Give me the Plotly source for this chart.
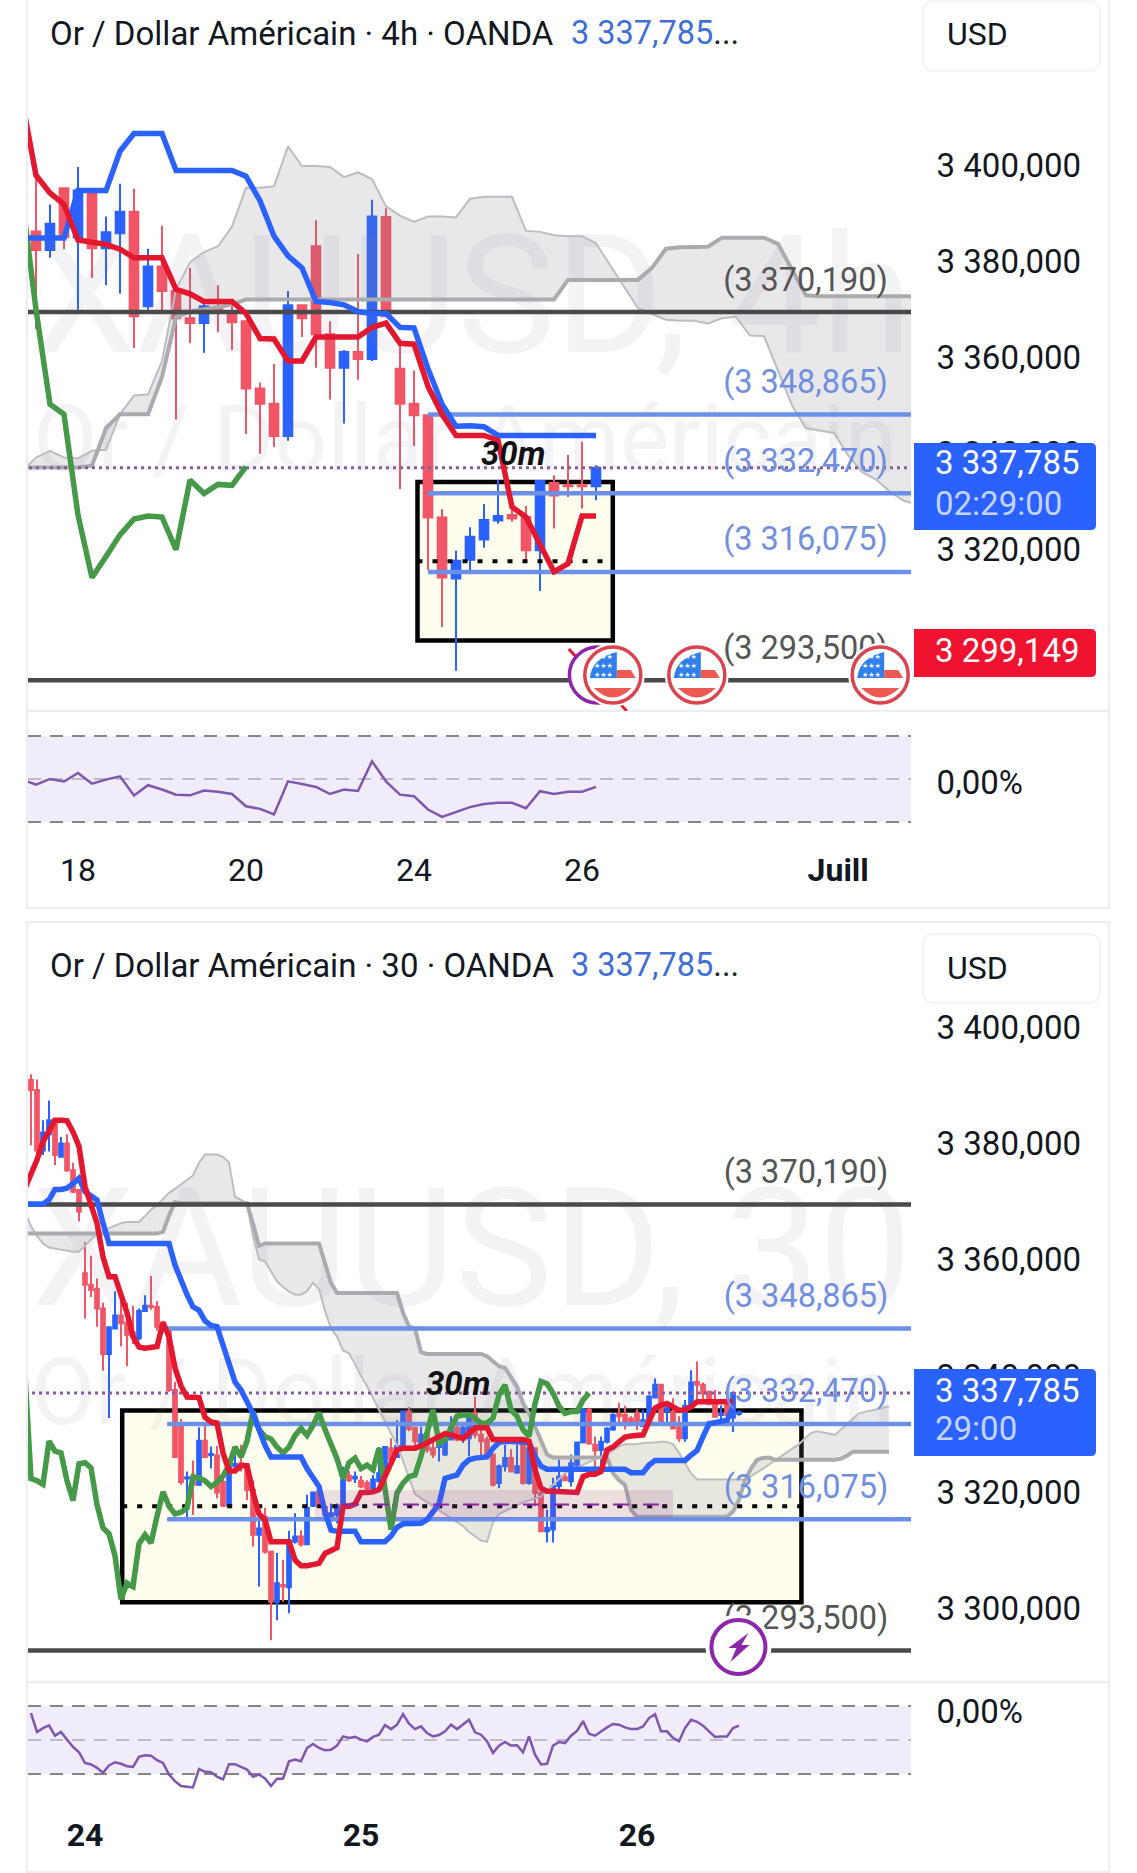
import plotly.graph_objects as go

# ---------- shared values ----------
LEVELS_DARK = [3370.19, 3293.5]
LEVELS_BLUE = [3348.865, 3332.47, 3316.075]
LEVEL_TEXT = {3370.19: "(3 370,190)", 3348.865: "(3 348,865)", 3332.47: "(3 332,470)", 3316.075: "(3 316,075)", 3293.5: "(3 293,500)"}
LAST_PRICE = 3337.785
BOX_TOP = 3334.8
BOX_BOTTOM = 3301.8
BOX_MID = 3318.3
PRICE_TICKS = [3400, 3380, 3360, 3340, 3320, 3300]

# ---------- panel 1 : 4h ----------
h4_open = [3387,3383.1,3396,3385.8,3395.5,3383.5,3386.6,3391.1,3371.4,3379.7,3374.6,3368.9,3367.9,3371.2,3369.9,3368.3,3354.3,3351.1,3344.4,3371.6,3383.9,3365.6,3358.6,3361.9,3360.4,3390,3358.4,3351.1,3348.7,3327.4,3314.7,3318.6,3322.8,3326.8,3327.9,3327.5,3320.6,3334.6,3334.1,3334.1,3333.9]
h4_high = [3397.9,3392.6,3396.1,3400.4,3395.5,3390.1,3396.9,3395.9,3383.4,3388.2,3374.6,3379.4,3372.8,3375.8,3372.4,3368.3,3355.5,3359.4,3374.6,3371.7,3389.3,3368.3,3362.3,3382.3,3393.6,3391.8,3363.3,3358,3348.7,3329.1,3320.5,3325.4,3330.2,3335.2,3329.6,3329.8,3335.2,3336.2,3340.4,3343.2,3338.3]
h4_low = [3366.6,3381.5,3383.3,3370.7,3377.3,3375.8,3374,3362.7,3370.7,3369.9,3347.8,3363.7,3361.7,3366,3362.3,3344.8,3340.7,3342.1,3343.4,3365,3358.6,3352,3347,3356.1,3360,3369.1,3333.3,3342.3,3316.4,3304.6,3295.5,3315.8,3321.1,3326.1,3326.5,3318.4,3312.1,3325.1,3331.7,3329.3,3331]
h4_close = [3383.1,3388.6,3385.8,3395.5,3383.5,3386.8,3391.1,3369.3,3379.7,3374.6,3368.9,3367.9,3371.4,3370.3,3368.1,3354.3,3351.1,3344.4,3371.6,3368.9,3365.6,3358.6,3361.9,3360.4,3390.1,3369.3,3351.1,3348.7,3327.4,3314.9,3318.4,3323.4,3326.9,3327.7,3327.2,3320.6,3335,3332,3333.9,3333.9,3337.785]
# lines start one bar before the first candle
h4_tenkan = [3414.4,3398.7,3395,3392.6,3385.2,3384.7,3384.3,3383.3,3381.5,3381.5,3381.5,3374.9,3374,3372.4,3372.4,3372.4,3369.9,3364.7,3364.6,3360,3360,3365,3365,3365,3365,3367,3367.9,3363.7,3363.5,3354.7,3348.9,3344.5,3344.5,3344.5,3343.5,3329.6,3327.5,3322,3316.1,3317.8,3327.7,3327.7]
h4_kijun = [3385.6,3385.6,3385.6,3385.6,3395.5,3395.5,3395.5,3403.7,3407.4,3407.4,3407.4,3399.7,3399.7,3399.7,3399.7,3399.7,3398.5,3393.4,3386,3381.9,3379.4,3372.4,3372.2,3371.7,3370.3,3369.9,3369.9,3367,3366.9,3358.4,3351,3346.4,3346.5,3346.3,3344.5,3344.5,3344.5,3344.5,3344.5,3344.5,3344.5,3344.5]
h4_chikou = [3394.1,3370.7,3351,3348.9,3327.9,3314.9,3319.3,3323.8,3327.1,3327.7,3327.5,3320.7,3335.2,3332.4,3334.3,3334.1,3338]
h4_span_a = [3337,3339.9,3341.3,3339.9,3339.7,3341.3,3341.5,3348.9,3352.8,3353,3360,3374.9,3380.6,3382.7,3383.9,3388,3396.1,3396.1,3396.4,3404.7,3400.6,3400.6,3400.4,3398.3,3399.3,3397.9,3392.2,3390.3,3389,3390.1,3390.1,3389.9,3393.8,3394.2,3394.2,3394.2,3387.1,3386.9,3386.2,3386,3386,3384.5,3380,3375.5,3371,3369.8,3368.6,3368.4,3368.4,3367.8,3368.9,3369.2,3365.3,3365.2,3357.8,3350.8,3346,3345.5,3345,3340.4,3336.9,3335.3,3332.8,3330.9,3330]
h4_span_b = [3337.8,3337.8,3337.8,3337.8,3337.8,3338.2,3346,3348.9,3348.9,3348.9,3356.7,3369.1,3370.3,3370.7,3371.2,3371.8,3372.8,3372.8,3372.8,3372.8,3372.8,3372.8,3372.8,3372.8,3372.8,3372.8,3372.8,3372.8,3372.8,3372.8,3372.8,3372.8,3372.8,3372.8,3372.8,3372.8,3372.8,3372.8,3372.8,3376.9,3376.9,3376.9,3376.9,3376.9,3376.9,3379.4,3383.4,3383.7,3383.8,3383.8,3385.7,3385.7,3385.7,3385.7,3384.4,3378.9,3373.7,3373.5,3373.5,3373.5,3373.5,3373.5,3373.5,3373.5,3373.5]
h4_rsi = [49.7,47.4,50,48.8,52.8,47.8,49.7,51.2,42.3,47.1,45.1,42.7,42.4,44.6,44.1,43,37.3,36.1,33.5,48.9,47.7,46.3,43,45.1,44.4,58.2,48.9,42.7,42,35.8,32.4,34.5,36.9,38.4,38.9,38.9,36.4,44.3,43,44,44.1,46.3]
h4_date_pos = [3, 15, 27, 39, 57.3]
h4_date_text = ["18", "20", "24", "26", "<b>Juill</b>"]

# ---------- panel 2 : 30 min ----------
m30_open = [3391.6,3389.9,3379.5,3382.3,3384.8,3378.4,3380.7,3376.1,3372.7,3358.4,
3356.4,3355.7,3352.3,3344.5,3348.9,3351.1,3349.9,3348.2,3347.2,3351.9,
3352.8,3352.6,3349.9,3348.9,3338.3,3332.6,3323.1,3323.3,3322,3329.6,
3327.1,3327.1,3322.5,3318.4,3325.2,3325.7,3325.2,3321.1,3313.4,3316.5,
3310.5,3301.9,3304.8,3304.4,3312.2,3313.1,3311.8,3318.4,3320.8,3318.2,
3315.9,3316.8,3318.8,3323.5,3323.1,3322.7,3322.3,3321.4,3322.6,3324,
3328.3,3326.8,3328.7,3334.6,3331.8,3329.2,3330.8,3328.3,3328.5,3327.2,
3329.8,3331.8,3329.8,3330,3334.3,3330.6,3329.8,3327.2,3322.3,3325.2,
3326.6,3324.1,3328.9,3322.3,3328.3,3320.6,3314,3314.3,3321.8,3323.3,
3322.6,3325.4,3329.3,3334.9,3328.9,3328,3329.4,3331.5,3334.2,3334,
3333.4,3334.3,3332.1,3333.1,3337,3339.2,3334.6,3334.6,3331.9,3330,
3335.6,3339.7,3339.2,3338,3336.3,3334,3336.6,3333.6,3334.2]
m30_high = [3392.6,3391.7,3384.7,3388.1,3384.8,3381.8,3382.3,3377.4,3372.7,3363.7,
3361.4,3357.5,3353.3,3349.1,3355.3,3355.3,3353.3,3352.8,3352.3,3354.6,
3357.9,3353.6,3350.2,3349.2,3339.7,3333.3,3324.3,3326.2,3331.9,3332.3,
3328.6,3328.7,3323.1,3325.7,3327.7,3328.9,3325.4,3322.8,3317.8,3318,
3310.5,3310.3,3309.1,3314.1,3317.1,3314.2,3320.3,3320.8,3320.8,3318.8,
3318.8,3318.8,3325.1,3324.4,3324.3,3323.5,3322.8,3323.7,3328.5,3328.7,
3330,3333.1,3334.8,3335.4,3332,3332,3331.8,3329.8,3329.8,3330.6,
3333.8,3333.3,3332.6,3334.3,3337.2,3331.5,3330.3,3327.2,3325.5,3328.9,
3328.1,3328.9,3328.9,3328.9,3328.3,3321.2,3317.7,3323.2,3326.3,3325.2,
3327.2,3329.4,3335.2,3335.2,3330.3,3330.3,3331.9,3334.3,3336.1,3335.6,
3333.8,3335,3334.9,3337.4,3340.3,3339.2,3336,3336.9,3333.8,3336.6,
3341.7,3343.2,3339.6,3338,3338.3,3335.7,3338.3,3338,3334.8]
m30_low = [3380.4,3378.4,3378.7,3379.3,3377,3378.3,3375.8,3372.2,3367.3,3350.6,
3354.3,3349.2,3341.6,3333.5,3348.9,3345.8,3342.4,3346.2,3346.8,3351.9,
3352.1,3348.5,3348.4,3338,3326.8,3322,3316.2,3316.8,3322,3326.7,
3324.8,3319.7,3318.2,3318.4,3324.8,3324.3,3319.4,3311.4,3304.5,3310.2,
3295.3,3298.7,3301.9,3299.9,3311.9,3311.4,3311.8,3318.2,3318,3315.9,
3315.9,3315.4,3318.5,3322.5,3322.3,3321.4,3321.1,3321.2,3322.4,3323.7,
3325.7,3326.6,3328.6,3331.2,3328.5,3328.3,3327.5,3326.6,3326,3326.9,
3329.8,3329.5,3329.2,3326.9,3330,3326.9,3326.9,3321.7,3321.4,3324.3,
3324.3,3324,3322,3322,3318.3,3314,3312.1,3312.1,3320.9,3322.6,
3321.7,3325.1,3329.1,3328.9,3324.8,3324.8,3329.1,3331.3,3332.3,3331.5,
3332.1,3331.4,3332,3332.6,3336.9,3332.7,3332.3,3331.7,3329.4,3329.4,
3335.4,3336.6,3336,3335.7,3333.6,3332.9,3332.6,3331.1,3333.9]
m30_close = [3389.9,3379.5,3382.6,3384.7,3378.7,3380.7,3376.1,3372.4,3369,3356.4,
3355.5,3352.3,3344.5,3349.1,3351.1,3349.8,3347.8,3347.5,3351.9,3352.8,
3352.6,3349.2,3348.5,3338.3,3326.8,3322.5,3323.3,3322,3329.6,3326.8,
3327.3,3320.7,3318.4,3325.2,3325.6,3325.1,3321.1,3313.4,3314.5,3310.5,
3301.9,3305.1,3304.5,3312.3,3313.1,3311.8,3318,3320.7,3318.2,3316.8,
3317.1,3318.5,3322.8,3322.8,3323.4,3321.7,3321.4,3322.9,3324,3328.5,
3326.3,3328.7,3334.6,3331.6,3329.5,3330.6,3328,3327.2,3329.8,3329.8,
3331.8,3329.8,3331.8,3334,3330.6,3329.5,3327.2,3322,3325.2,3326.6,
3324.3,3325.2,3322.3,3328.3,3320.6,3314,3314.6,3321.8,3323.4,3322.8,
3325.7,3329.3,3334.9,3329.1,3327.9,3329.4,3331.7,3334,3333.8,3332.9,
3332.3,3332.3,3333.1,3337.2,3339.2,3332.9,3335.2,3331.7,3330,3335.6,
3339.6,3339.2,3337.7,3336,3333.7,3334.2,3334,3337.785,3334.5]
m30_tenkan = [3373,3375.3,3377.9,3381,3382.7,3384.7,3384.7,3384.6,3382.7,3380.2,3373.3,
3369.8,3367,3361.2,3357.8,3357.8,3354.7,3351.6,3347.5,3345.7,3345.5,3345.7,3345.8,3349.9,3347.5,3342.1,3339,
3337.1,3337.1,3337,3333.6,3332.8,3332.6,3327.5,3324.4,3324.4,3325.3,3325.3,3320.7,3317,3316,3312.2,3312.2,3312.2,3312.2,3309.1,3308.1,
3308.1,3308.3,3308.5,3310.2,3310.6,3311.2,3318.3,3318.3,3318.7,3320.7,3320.7,3320.8,3321.2,3323.4,3326.1,3328,
3328.3,3328.3,3328.3,3328.7,3329.2,3329.8,3330.3,3330.8,3330.6,3330.3,3330,3330.9,3331.8,3331.8,3331.8,3329.8,3329.8,3329.8,3329.8,3329.8,3329.8,
3329.5,3324.6,3321.4,3320.9,3320.9,3320.9,3320.9,3320.9,3320.7,3323.4,3323.8,3323.8,3324.3,3328,3328.5,3329.4,3330.2,3330.4,
3330.5,3330.6,3332.9,3335.2,3335.7,3336,3335.4,3334.8,3334.9,3335.4,3336.3,3336.3,3336.3,3336.3,3336.3,3336.3,3336.3]
m30_kijun = [3370.3,3370.3,3370.3,3370.3,3371,3372.8,3372.8,3373,3373.8,3374.7,3372.4,3371.8,3371,3367,
3363.5,3363.5,3363.5,3363.5,3363.5,3363.5,3363.5,3363.5,3363.5,3363.5,3363.5,
3359.8,3357,3354.7,3352.6,3352,3350.2,3349.4,3349.2,3346.2,3343.1,3339.7,3338.3,3336.3,3334.3,3331.5,3328.8,
3326.8,3326.8,3326.8,3326.8,3326.8,3326.8,3324.8,3323.1,3321.7,3317.3,3314.2,3314,3314,3314,3314,
3312.2,3312.2,3312.2,3312.2,3312.2,3313.2,3314.7,3315.3,3315.4,3315.4,3315.4,3316,3317.2,3318.7,3323.1,3323.5,3323.7,3325.4,3326.3,3326.6,3326.8,3326.8,
3328.3,3329.3,3329.5,3329.5,3329.5,3329.5,3329.3,3326.9,3325.2,
3324.7,3324.7,3324.7,3324.7,3324.7,3324.7,3324.7,3324.7,3324.7,3324.7,3324.7,3324.7,3324.7,3324.7,
3324.1,3324.1,3324.1,3325.4,3326.2,3326.2,3326.2,3326.2,3326.2,3326.2,3327.1,3327.9,3330.3,3332.5,3332.7,3333,3333.1,3335.4]
m30_chikou = [3341,3323.1,3322.7,3322.1,3329.5,3327.8,3327.5,3322.7,3319.3,3325.6,3325.8,3324.9,3318.6,3314.6,3313.6,3309.8,3302.3,3305.1,3304.5,3311.9,3313.4,3312,3316.6,3320.8,3318.3,3317,3317.3,3318,3323.4,3323.2,3322.7,3321.7,3322.4,3323.5,3325.4,3328.5,3326.8,3329.5,3334.6,3331.5,3330.3,3329.9,3328.5,3327.5,3328.5,3330.5,3331.7,3330.5,3332.2,3334.4,3331.5,3329.2,3326.5,3323.1,3325.8,3326.6,3324.8,3325.4,
3324.6,3328.3,3321.2,3314.3,3320.6,3322.3,3323.4,3323.7,3326.9,3331.2,3334.9,3329.2,3329.8,3331.8,3333.8,3334,3334,3333.5,3332.6,3332.6,3333.5,3337.5,3339.2,3334.9,3333.8,3331.5,3330.3,3336,3339.8,3339.4,3337.8,3335.5,3334.3,3334.6,3334.6,3336.6,3337.8]
m30_span_a = [3368.9,3366.5,3364.8,3363.5,3362.8,3362.6,3362.5,3362.3,3362.1,3362.1,3363.1,3364.2,3365.2,3365.7,3366.1,3366.5,3367,3367.2,3367.2,3367.2,3368.2,3369.3,3370.1,3371.1,3372.2,3372.9,3373.7,3374.4,3375.2,3377.4,3378.8,3378.8,3378.8,3378.4,3377.4,3371.5,3371,3370.3,3364.8,3360.8,3360.4,3358.7,3357,3356,3355.2,3354.7,3354.7,3355.3,3356.7,3355.7,3351.9,3348.9,3347.5,3345.1,3344.6,3342.8,3340.7,3339,3337,3335,3332.9,3330.9,3328.8,3326.1,3323.4,3320.4,3319.7,3319,3318.3,3317.6,3317,3316.3,3315.6,3314.9,3313.9,3313.1,3312.4,3312.2,3315.6,
3317,3317.5,3318,3318.5,3319,3319.3,3319.7,3320,3321,3322,3323,3324,3324.5,3325,3325.5,3326,3326.4,3326.8,3327.1,3327.9,3328.6,3329,3329,3329,3329.2,3329.2,3329.3,3329.4,3329.4,3329,3327.5,3325.7,3324,3322.9,3322.9,3322.9,3322.9,3322.9,3322.9,3322.9,3322.9,3322.9,3323.5,3324.1,3324.8,3325.5,3326.2,3326.9,3327.5,3328.2,3329,3330,3330.9,3331.2,3331,3330.8,3330.6,3331.5,3332.5,3333.4,3334.3,3334.6,3334.8,3335,3335.3,3335.5]
m30_span_b = [3365.2,3365.2,3365.2,3365.2,3365.2,3365.2,3365.2,3365.2,3365.2,3365.2,3365.2,3365.2,3365.2,3365.2,3365.2,3365.2,3365.2,3365.2,3365.2,3365.2,3365.2,3365.2,3365.2,3365.5,3368.3,3370.6,3370.4,3370.4,3370.4,3370.4,3370.4,3370.4,3370.4,3370.4,3370.4,3370.4,3370.4,3370.4,3366.9,3363.1,3363.5,3363.5,3363.5,3363.5,3363.5,3363.5,3363.5,3363.5,3363.5,3363.5,3360.1,3356.7,3355,3355,3355,3355,3355,3355,3355,3355,3355,3355,3355,3351.6,3349.2,3348.9,3344.8,3344.5,3344.5,3344.5,3344.5,3344.5,3344.5,3344.5,3344.5,3344.5,3344.5,3344.1,3343.2,3342.4,3342.1,3340.6,3338.9,3336,3334.3,3332,3329.5,3327.2,3326.7,3326.7,3326.7,3326.7,3326.7,3326.7,3326.7,3326.7,3326.7,3326.7,3324,3322.8,3322,3317.7,3316.5,3316.5,3316.5,3316.5,3316.5,3316.5,3316.5,3316.5,3316.5,3316.5,3316.5,3316.5,3316.5,3316.5,3316.5,3316.5,3317.4,3319.4,3322.8,3324.8,3326.3,3326.6,3326.7,3326.3,3326.3,3326.3,3326.3,3326.3,3326.3,3326.3,3326.3,3326.3,3326.3,3326.3,3326.5,3327,3327.7,3327.7,3327.7,3327.7,3327.7,3327.7,3327.7]
m30_rsi = [65.8,54.7,57,58.6,52.5,54.7,50.2,45.9,42.8,36.5,35.6,33.6,30.7,35,36.9,36,34.6,34.2,40.1,41,40.8,38.1,36.5,29.7,25.8,22.9,22.5,22.1,33,31.3,31.1,28.4,26.8,35.8,35.8,34.2,32.6,28.4,29.7,27.4,22.9,27.2,27.2,37.5,38.5,37.5,45.3,47.7,45.3,44,44.3,46.7,52.1,51.2,51.8,50.2,49.2,51.8,53.1,58.8,56.4,59,65.2,59.6,56.4,58,54.1,52.1,52.9,55.1,59,56.4,59.4,61.9,54.5,53.1,49.2,42.4,46.7,48.8,46.7,46.9,42.8,52.1,41.4,35.6,36,46.7,48.8,48.2,52.5,55.3,61.1,53.7,52.5,55.1,57.4,59.4,59,57.4,56.4,56.4,58,62.9,65.2,55.1,55.1,51.2,49.2,57,61.9,60.7,58.4,55.1,51.8,52.1,52.1,57,58.4]
m30_date_pos = [9, 55, 101]
m30_date_text = ["<b>24</b>", "<b>25</b>", "<b>26</b>"]

# ---------- styling ----------
W, H = 1137, 1873
FONT = "Roboto"
INK = "#131722"
BLUE = "#2962ff"
RED_CANDLE = "#f25565"
RED_LINE = "#e3172e"
GREEN = "#459a47"
LEVEL_BLUE = "#6c90e8"
LEVEL_DARK = "#4a4a4a"
LABEL_BLUE = "#6f8fdf"
LABEL_DARK = "#555555"
BOX_FILL = "#fffeee"
WATER = "rgba(120,125,140,0.09)"
FRAME = "#eceef2"
PURPLE = "#7e57ae"
AXIS_RIGHT = 911

px = lambda x: x / W
py = lambda y: 1 - y / H

fig = go.Figure()
shapes, notes = [], []


def note(x, y, text, size, color=INK, anchor="left", **kw):
    notes.append(dict(x=px(x), y=py(y), xref="paper", yref="paper", text=text, showarrow=False,
                      xanchor=anchor, yanchor="middle", font=dict(family=FONT, size=size, color=color), **kw))


def draw_panel(xa, ya, xr, yr, open_, high, low, close, tenkan, kijun, chikou, span_a, span_b, rsi,
               watermark, box_x, level_start_dark, level_start_blue, label_x, wm_x, wm_y1, wm_y2, rng_right):
    lx = [wm_x]
    common = dict(xaxis=xa, yaxis=ya, showlegend=False, hoverinfo="skip")
    # watermark
    fig.add_trace(go.Scatter(x=lx, y=[wm_y1], mode="text", text=[watermark], textposition="middle right",
                             textfont=dict(family=FONT, size=165, color=WATER), **common))
    fig.add_trace(go.Scatter(x=lx, y=[wm_y2], mode="text", text=["Or / Dollar Américain"], textposition="middle right",
                             textfont=dict(family=FONT, size=93, color=WATER), **common))
    # ichimoku cloud
    xs = list(range(-1, len(span_a) - 1))
    fig.add_trace(go.Scatter(x=xs, y=span_a, mode="lines", line=dict(color="#bcbdc1", width=2), **common))
    fig.add_trace(go.Scatter(x=xs[:len(span_b)], y=span_b, mode="lines", line=dict(color="#aaabaf", width=4),
                             fill="tonexty", fillcolor="rgba(125,130,145,0.18)", **common))
    # levels
    for lv in LEVELS_DARK:
        fig.add_trace(go.Scatter(x=[level_start_dark, rng_right], y=[lv, lv], mode="lines",
                                 line=dict(color=LEVEL_DARK, width=4.5), **common))
    for lv in LEVELS_BLUE:
        fig.add_trace(go.Scatter(x=[level_start_blue, rng_right], y=[lv, lv], mode="lines",
                                 line=dict(color=LEVEL_BLUE, width=4.5), **common))
    fig.add_trace(go.Scatter(x=[box_x[0], box_x[1]], y=[BOX_MID, BOX_MID], mode="lines",
                             line=dict(color="#000000", width=4, dash="5px,10px"), **common))
    fig.add_trace(go.Scatter(x=[level_start_dark, rng_right], y=[LAST_PRICE, LAST_PRICE], mode="lines",
                             line=dict(color="#8a5a9c", width=3, dash="3px,4px"), **common))
    # candles
    fig.add_trace(go.Candlestick(x=list(range(len(close))), open=open_, high=high, low=low, close=close,
                                 increasing=dict(line=dict(color=BLUE, width=2), fillcolor=BLUE),
                                 decreasing=dict(line=dict(color=RED_CANDLE, width=2), fillcolor=RED_CANDLE),
                                 xaxis=xa, yaxis=ya, showlegend=False, hoverinfo="skip"))
    # ichimoku lines
    for series, color in ((chikou, GREEN), (kijun, BLUE), (tenkan, RED_LINE)):
        fig.add_trace(go.Scatter(x=list(range(-1, len(series) - 1)), y=series, mode="lines",
                                 line=dict(color=color, width=5.5), **common))
    # level labels
    for lv, txt in LEVEL_TEXT.items():
        fig.add_trace(go.Scatter(x=[label_x], y=[lv + label_lift[ya]], mode="text", text=[txt],
                                 textposition="middle left",
                                 textfont=dict(family=FONT, size=32.5, color=LABEL_DARK if lv in LEVELS_DARK else LABEL_BLUE),
                                 **common))
    # yellow box
    shapes.append(dict(type="rect", xref=xa, yref=ya, x0=box_x[0], x1=box_x[1], y0=BOX_BOTTOM, y1=BOX_TOP,
                       fillcolor=BOX_FILL, line=dict(color="#000000", width=4.5), layer="below"))
    # RSI
    fig.add_trace(go.Scatter(x=list(range(len(rsi))) if xr == "x4" else list(range(-1, len(rsi) - 1)), y=rsi,
                             mode="lines", line=dict(color=PURPLE, width=2.5),
                             xaxis=xr, yaxis=yr, showlegend=False, hoverinfo="skip"))
    shapes.append(dict(type="rect", xref=xr + " domain", yref=yr, x0=0, x1=1, y0=30, y1=70,
                       fillcolor="#f0ecfa", line=dict(width=0), layer="below"))
    for v, c in ((70, "#868686"), (50, "#bdbbc4"), (30, "#868686")):
        shapes.append(dict(type="line", xref=xr + " domain", yref=yr, x0=0, x1=1, y0=v, y1=v,
                           line=dict(color=c, width=2, dash="13px,9px"), layer="below"))


label_lift = {"y": 6.15, "y3": 5.1}

draw_panel("x", "y", "x2", "y2", h4_open, h4_high, h4_low, h4_close, h4_tenkan, h4_kijun, h4_chikou,
           h4_span_a, h4_span_b, h4_rsi, "XAUUSD, 4h", (27.25, 41.2), -1, 28, 60.85, -0.2, 3370.5, 3342, 64)
draw_panel("x3", "y3", "x4", "y4", m30_open, m30_high, m30_low, m30_close, m30_tenkan, m30_kijun, m30_chikou,
           m30_span_a, m30_span_b, m30_rsi, "XAUUSD, 30", (15.2, 128.4), -1, 22.7, 142.9, 0, 3360, 3336.5, 150)

# pink zone on the 30 min chart
shapes.append(dict(type="rect", xref="x3", yref="y3", x0=47.3, x1=107, y0=3316.3, y1=3321.1,
                   fillcolor="rgba(150,60,150,0.16)", line=dict(width=0), layer="above"))
shapes.append(dict(type="line", xref="x3", yref="y3", x0=52, x1=107, y0=3318.6, y1=3318.6,
                   line=dict(color="#8e24aa", width=2, dash="16px,14px"), layer="above"))

# panel frames and separators
for top, bottom, sep in ((-6, 908, 711), (922, 1872, 1682)):
    shapes.append(dict(type="rect", xref="paper", yref="paper", x0=px(27), x1=px(1109), y0=py(bottom), y1=py(top),
                       line=dict(color=FRAME, width=2), layer="below"))
    shapes.append(dict(type="line", xref="paper", yref="paper", x0=px(27), x1=px(1109), y0=py(sep), y1=py(sep),
                       line=dict(color=FRAME, width=2.5), layer="above"))

# USD selectors
for top, bottom, text_y in ((1, 71, 34), (934, 1003, 968)):
    shapes.append(dict(type="path", xref="paper", yref="paper", layer="above",
                       path=f"M {px(935)} {py(top)} L {px(1088)} {py(top)} Q {px(1100)} {py(top)} {px(1100)} {py(top+12)} "
                            f"L {px(1100)} {py(bottom-12)} Q {px(1100)} {py(bottom)} {px(1088)} {py(bottom)} "
                            f"L {px(935)} {py(bottom)} Q {px(923)} {py(bottom)} {px(923)} {py(bottom-12)} "
                            f"L {px(923)} {py(top+12)} Q {px(923)} {py(top)} {px(935)} {py(top)} Z",
                       line=dict(color="#f0f1f4", width=1.5), fillcolor="#ffffff"))
    note(945, text_y, "USD", 32)


def price_tag(top, bottom, color):
    r = 5
    shapes.append(dict(type="path", xref="paper", yref="paper", layer="above", fillcolor=color, line=dict(width=0),
                       path=f"M {px(914)} {py(top)} L {px(1096-r)} {py(top)} Q {px(1096)} {py(top)} {px(1096)} {py(top+r)} "
                            f"L {px(1096)} {py(bottom-r)} Q {px(1096)} {py(bottom)} {px(1096-r)} {py(bottom)} L {px(914)} {py(bottom)} Z"))


price_tag(443, 530, BLUE)
price_tag(629, 677, "#f0132f")
price_tag(1369, 1456, BLUE)
note(933, 463, "3 337,785", 33, "#ffffff")
note(933, 503, "02:29:00", 33, "#c5d4ff")
note(933, 650, "3 299,149", 33, "#ffffff")
note(933, 1390, "3 337,785", 33, "#ffffff")
note(933, 1428, "29:00", 33, "#c5d4ff")

# headers
for y, tf in ((33, "4h"), (965, "30")):
    note(48, y, f"Or / Dollar Américain · {tf} · OANDA", 33)
    note(569, y, "3 337,785<span style='color:#222'>...</span>", 32.5, "#3d6fd6")

# 30m tags
for xa, ya, x, y in (("x", "y", 34.1, 3340.8), ("x3", "y3", 71.2, 3339.5)):
    notes.append(dict(x=x, y=y, xref=xa, yref=ya, text="<b><i>30m</i></b>", showarrow=False,
                      font=dict(family=FONT, size=33, color="#111111")))


def circle(xa, ya, x, y, r, **kw):
    shapes.append(dict(type="circle", xref=xa, yref=ya, xsizemode="pixel", ysizemode="pixel", xanchor=x, yanchor=y,
                       x0=-r, x1=r, y0=-r, y1=r, layer="above", **kw))


def glyph(xa, ya, x, y, path, **kw):
    shapes.append(dict(type="path", xref=xa, yref=ya, xsizemode="pixel", ysizemode="pixel", xanchor=x, yanchor=y,
                       path=path, layer="above", **kw))


def us_flag(x, y):
    circle("x", "y", x, y, 32, fillcolor="#ffffff", line=dict(width=0))
    circle("x", "y", x, y, 28, fillcolor="#ffffff", line=dict(color="#d9444e", width=3.5))
    glyph("x", "y", x, y, "M 4 -3 L -23 -3 Q -21 17 4 23 Z", fillcolor="#2f80ed", line=dict(width=0))
    glyph("x", "y", x, y, "M 4 5 L 18 5 L 23 -3 L 4 -3 Z", fillcolor="#ee5a52", line=dict(width=0))
    glyph("x", "y", x, y, "M -19 -13 L 19 -13 Q 0 -32 -19 -13 Z", fillcolor="#ee5a52", line=dict(width=0))
    notes.append(dict(x=x, y=y, xref="x", yref="y", text="★★★<br>★★★<br>★★★", showarrow=False, xshift=-9, yshift=9,
                      font=dict(family="DejaVu Sans", size=7, color="#ffffff")))


# event icons on the 4h chart
EVENT_Y = 3294.6
glyph("x", "y", 41.2, EVENT_Y, "M -44 26 L 14 -36", line=dict(color="#e3172e", width=3))
circle("x", "y", 40.1, EVENT_Y, 28, fillcolor="#ffffff", line=dict(color="#8e24aa", width=3.5))
for pos in (41.2, 47.2, 60.3):
    us_flag(pos, EVENT_Y)

# lightning icon on the 30 min chart
ICON_X, ICON_Y = 117.9, 3294.1
circle("x3", "y3", ICON_X, ICON_Y, 33, fillcolor="#ffffff", line=dict(width=0))
circle("x3", "y3", ICON_X, ICON_Y, 27, fillcolor="#ffffff", line=dict(color="#8e24aa", width=4))
glyph("x3", "y3", ICON_X, ICON_Y, "M -10 -1 L 10 14 L 3 2 L 11 2 L -8 -15 L -2 -1 Z", fillcolor="#8e24aa", line=dict(width=0))


# ---------- axes ----------
def dom(a, b):
    return [1 - b / H, 1 - a / H]


hidden_x = dict(showgrid=False, zeroline=False, showline=False, showticklabels=False, ticks="",
                rangeslider=dict(visible=False))
date_x = dict(showgrid=False, zeroline=False, showline=False, tickmode="array", ticks="",
              tickfont=dict(family=FONT, size=32, color=INK), tickangle=0, rangeslider=dict(visible=False))
price_y = dict(side="right", showgrid=False, zeroline=False, showline=False, tickmode="array", ticks="outside", ticklen=18,
               tickcolor="rgba(0,0,0,0)", tickfont=dict(family=FONT, size=33, color=INK))


def price_axis(shift, rng, domain, anchor):
    return dict(price_y, range=rng, domain=domain, anchor=anchor,
                tickvals=[t + shift for t in PRICE_TICKS],
                ticktext=[f"3 {t - 3000},000" for t in PRICE_TICKS])


fig.update_layout(
    width=W, height=H, autosize=False, margin=dict(l=0, r=0, t=0, b=0),
    paper_bgcolor="#ffffff", plot_bgcolor="rgba(0,0,0,0)", showlegend=False, hovermode=False, boxgap=0.12,
    xaxis=dict(hidden_x, domain=[px(28), px(AXIS_RIGHT)], range=[-0.571, 62.5], anchor="y"),
    yaxis=price_axis(0.8, [3287.1, 3420.2], dom(72, 711), "x"),
    xaxis2=dict(date_x, domain=[px(28), px(AXIS_RIGHT)], range=[-0.571, 62.5], anchor="y2",
                tickvals=h4_date_pos, ticktext=h4_date_text),
    yaxis2=dict(price_y, range=[17.9, 81.6], domain=dom(711, 848), anchor="x2", tickvals=[48.6], ticktext=["0,00%"]),
    xaxis3=dict(hidden_x, domain=[px(28), px(AXIS_RIGHT)], range=[-0.5, 146.66], anchor="y3"),
    yaxis3=price_axis(0.68, [3288.1, 3404.85], dom(1003, 1682), "x3"),
    xaxis4=dict(date_x, domain=[px(28), px(AXIS_RIGHT)], range=[-0.5, 146.66], anchor="y4",
                tickvals=m30_date_pos, ticktext=m30_date_text),
    yaxis4=dict(price_y, range=[7.06, 84.1], domain=dom(1682, 1813), anchor="x4", tickvals=[67], ticktext=["0,00%"]),
    shapes=shapes, annotations=notes,
)

fig.write_html("out.html", config={"displayModeBar": False},
               post_script="document.body.style.margin='0';document.body.style.overflow='hidden';")
